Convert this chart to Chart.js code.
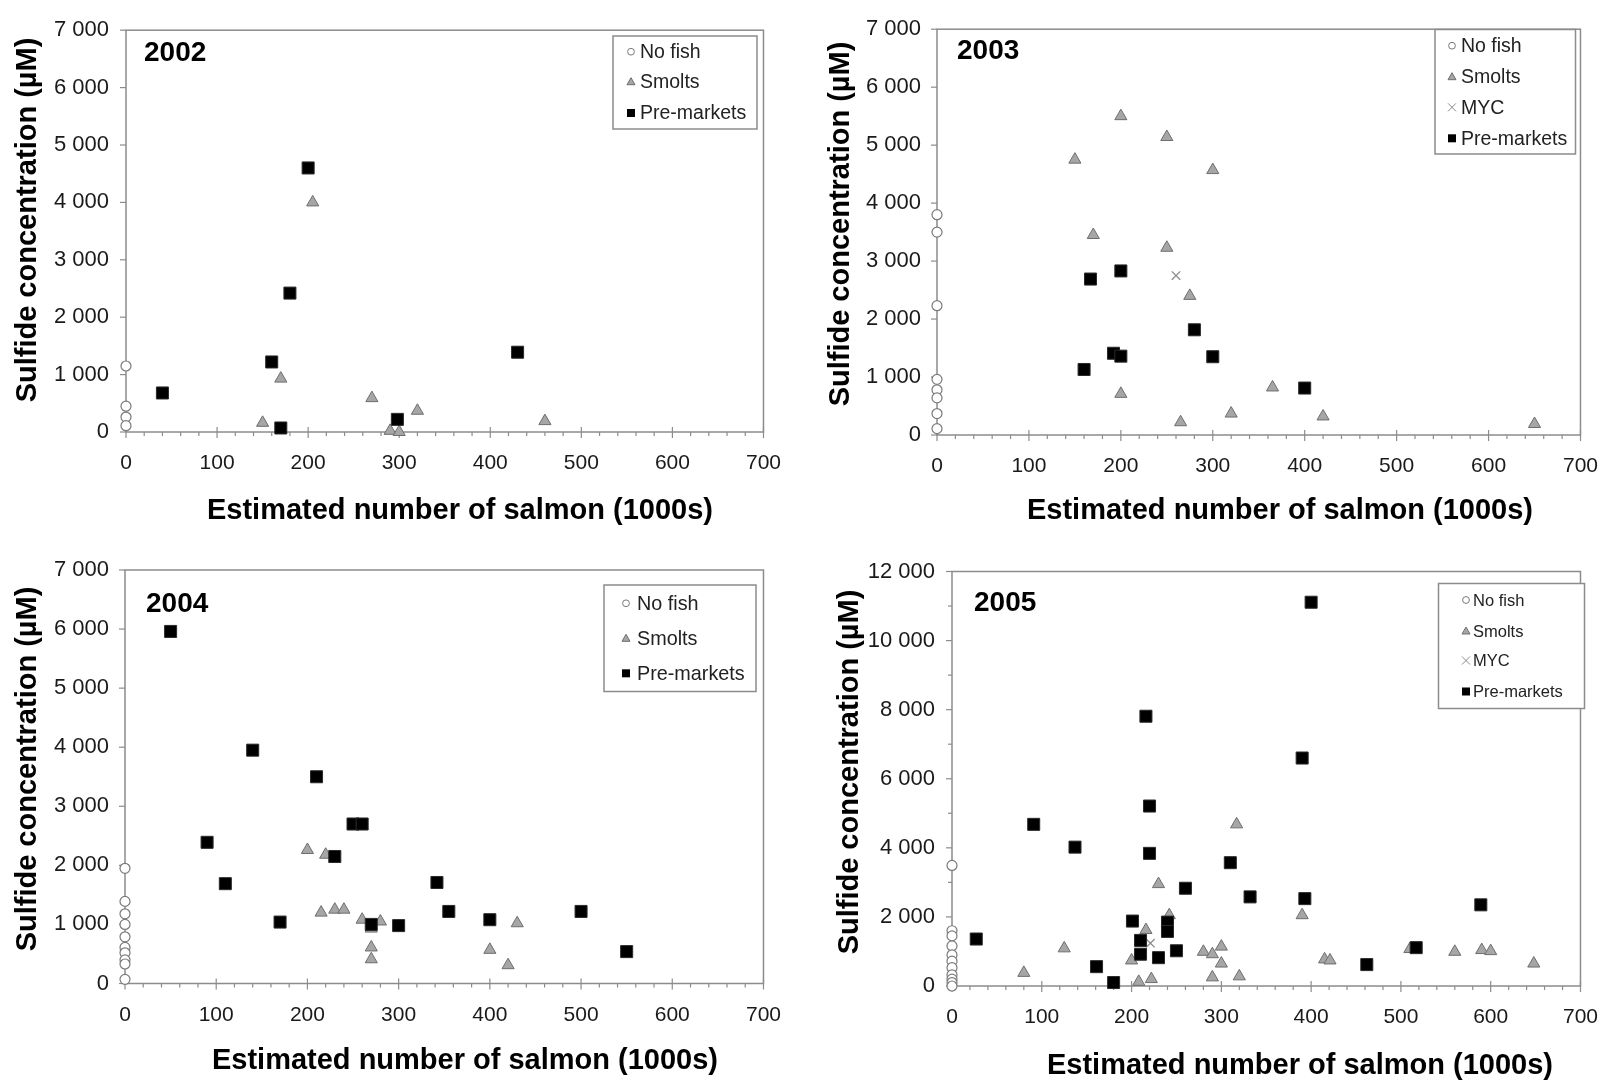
<!DOCTYPE html>
<html>
<head>
<meta charset="utf-8">
<title>Sulfide concentration vs salmon</title>
<script src="https://cdn.jsdelivr.net/npm/chart.js@4.4.1/dist/chart.umd.min.js"></script>
<style>
  html, body { margin: 0; padding: 0; background: #fff; }
  #wrap { position: relative; width: 1617px; height: 1080px; overflow: hidden; }
  #wrap canvas { position: absolute; }
</style>
</head>
<body>
<div id="wrap">
  <canvas id="c2002" width="800" height="540" style="left:0;top:0"></canvas>
  <canvas id="c2003" width="817" height="540" style="left:800px;top:0"></canvas>
  <canvas id="c2004" width="800" height="540" style="left:0;top:540px"></canvas>
  <canvas id="c2005" width="817" height="540" style="left:800px;top:540px"></canvas>
</div>
<script>
// --- data: [salmon (1000s), sulfide (µM)] ---
const noFish2002 = [[0, 1150], [0, 450], [0, 260], [0, 110]];
const smolts2002 = [[150, 160], [170, 930], [205, 4000], [270, 590], [290, 20], [300, 0], [320, 370], [460, 190]];
const preMarkets2002 = [[40, 680], [160, 1220], [170, 70], [180, 2420], [200, 4600], [298, 220], [430, 1390]];

const noFish2003 = [[0, 3800], [0, 3500], [0, 2230], [0, 960], [0, 780], [0, 640], [0, 370], [0, 110]];
const smolts2003 = [[150, 4750], [170, 3450], [200, 5500], [200, 710], [250, 5140], [250, 3230], [265, 220],
  [275, 2400], [300, 4570], [320, 370], [365, 820], [420, 320], [650, 190]];
const myc2003 = [[260, 2750]];
const preMarkets2003 = [[160, 1130], [167, 2690], [192, 1410], [200, 1360], [200, 2830], [280, 1815], [300, 1350], [400, 810]];

const noFish2004 = [[0, 1950], [0, 1390], [0, 1180], [0, 1000], [0, 790], [0, 610], [0, 520], [0, 400], [0, 330], [0, 70]];
const smolts2004 = [[200, 2260], [220, 2180], [215, 1200], [230, 1250], [240, 1250], [260, 1080], [270, 930],
  [270, 610], [270, 410], [280, 1050], [400, 570], [420, 310], [430, 1020]];
const preMarkets2004 = [[50, 5960], [90, 2390], [110, 1690], [140, 3950], [170, 1040], [210, 3500], [230, 2150],
  [250, 2700], [260, 2700], [270, 1000], [300, 980], [342, 1710], [355, 1220], [400, 1080], [500, 1220], [550, 540]];

const noFish2005 = [[0, 3490], [0, 1600], [0, 1450], [0, 1160], [0, 900], [0, 720], [0, 530], [0, 320], [0, 200], [0, 100], [0, 0]];
const smolts2005 = [[80, 380], [125, 1090], [200, 740], [208, 120], [216, 1620], [222, 200], [230, 2950], [242, 2050],
  [280, 990], [290, 920], [290, 250], [300, 1140], [300, 650], [317, 4680], [320, 280], [390, 2050], [415, 770],
  [421, 740], [510, 1070], [560, 990], [590, 1040], [600, 1010], [648, 650]];
const myc2005 = [[221, 1240]];
const preMarkets2005 = [[27, 1360], [91, 4680], [137, 4020], [161, 560], [180, 100], [201, 1880], [210, 1320],
  [210, 920], [216, 7810], [220, 5210], [220, 3840], [230, 820], [240, 1850], [240, 1580], [250, 1020], [260, 2830],
  [310, 3570], [332, 2580], [390, 6600], [393, 2530], [400, 11110], [462, 620], [517, 1110], [589, 2350]];

// tick labels
const xTickValues = [0, 100, 200, 300, 400, 500, 600, 700];
const yTicks7000 = [0, 1000, 2000, 3000, 4000, 5000, 6000, 7000];
const yTicks12000 = [0, 2000, 4000, 6000, 8000, 10000, 12000];

const seriesNames = { noFish: 'No fish', smolts: 'Smolts', myc: 'MYC', preMarkets: 'Pre-markets' };

// --- styles ---
const FONT = "'Liberation Sans', Arial, Helvetica, sans-serif";
const AXIS_COLOR = '#8c8c8c';
const TEXT_COLOR = '#1a1a1a';
const markStyle = {
  noFish:     { pointStyle: 'circle',   radius: 5,   bg: '#ffffff', border: '#7a7a7a', width: 1.2 },
  smolts:     { pointStyle: 'triangle', radius: 7,   bg: '#a6a6a6', border: '#6e6e6e', width: 1 },
  myc:        { pointStyle: 'crossRot', radius: 6,   bg: '#8a8a8a', border: '#8a8a8a', width: 1.3 },
  preMarkets: { pointStyle: 'rect',     radius: 8.5, bg: '#000000', border: '#2a2a2a', width: 1 }
};

function fmt(v) {
  return String(v).replace(/\B(?=(\d{3})+(?!\d))/g, ' ');
}

// small legend symbols
function legendMark(ctx, key, x, y) {
  const s = markStyle[key];
  ctx.save();
  ctx.lineWidth = 1;
  ctx.strokeStyle = s.border;
  ctx.fillStyle = s.bg;
  ctx.beginPath();
  if (key === 'noFish') {
    ctx.arc(x, y, 3.4, 0, Math.PI * 2);
    ctx.fill(); ctx.stroke();
  } else if (key === 'smolts') {
    ctx.moveTo(x, y - 4); ctx.lineTo(x + 4, y + 3); ctx.lineTo(x - 4, y + 3); ctx.closePath();
    ctx.fill(); ctx.stroke();
  } else if (key === 'myc') {
    ctx.moveTo(x - 4, y - 4); ctx.lineTo(x + 4, y + 4);
    ctx.moveTo(x + 4, y - 4); ctx.lineTo(x - 4, y + 4);
    ctx.stroke();
  } else {
    ctx.fillStyle = '#000';
    ctx.fillRect(x - 4, y - 4, 8, 8);
  }
  ctx.restore();
}

const panelDecor = {
  id: 'panelDecor',
  beforeDatasetsDraw(chart, args, o) {
    const { ctx, chartArea: a, scales: { x, y } } = chart;
    ctx.save();
    ctx.strokeStyle = AXIS_COLOR;
    ctx.lineWidth = 1.5;
    ctx.strokeRect(a.left, a.top, a.right - a.left, a.bottom - a.top);
    ctx.lineWidth = 1.2;
    // x ticks: major cross the axis, minor below
    for (let v = x.min; v <= x.max; v += o.xMinor) {
      const px = x.getPixelForValue(v);
      const major = v % o.xMajor === 0;
      ctx.beginPath();
      ctx.moveTo(px, a.bottom - (major ? 5 : 0));
      ctx.lineTo(px, a.bottom + (major ? 6 : 4));
      ctx.stroke();
    }
    // y ticks on the left
    for (let v = y.min; v <= y.max; v += o.yMinor) {
      const py = y.getPixelForValue(v);
      const major = v % o.yMajor === 0;
      ctx.beginPath();
      ctx.moveTo(a.left - (major ? 6 : 4), py);
      ctx.lineTo(a.left, py);
      ctx.stroke();
    }
    ctx.restore();
  },
  afterDatasetsDraw(chart, args, o) {
    const { ctx } = chart;
    ctx.save();
    ctx.fillStyle = '#000';
    // year label
    ctx.font = 'bold 28px ' + FONT;
    ctx.textAlign = 'left';
    ctx.textBaseline = 'alphabetic';
    ctx.fillText(o.year, o.yearPos[0], o.yearPos[1] + 10);
    // x title
    ctx.font = 'bold 29px ' + FONT;
    ctx.textAlign = 'center';
    ctx.fillText('Estimated number of salmon (1000s)', o.xTitle[0], o.xTitle[1] + 10.4);
    // y title
    ctx.save();
    ctx.translate(o.yTitle[0], o.yTitle[1]);
    ctx.rotate(-Math.PI / 2);
    ctx.textBaseline = 'middle';
    ctx.fillText('Sulfide concentration (\u00b5M)', 0, 0);
    ctx.restore();
    // legend
    const L = o.legend;
    ctx.fillStyle = '#fff';
    ctx.fillRect(L.box[0], L.box[1], L.box[2], L.box[3]);
    ctx.strokeStyle = '#8c8c8c';
    ctx.lineWidth = 1.5;
    ctx.strokeRect(L.box[0], L.box[1], L.box[2], L.box[3]);
    ctx.font = L.font + 'px ' + FONT;
    ctx.textAlign = 'left';
    ctx.textBaseline = 'middle';
    L.keys.forEach((k, i) => {
      legendMark(ctx, k, L.markX, L.rows[i]);
      ctx.fillStyle = '#222';
      ctx.fillText(seriesNames[k], L.textX, L.rows[i] + 1);
    });
    ctx.restore();
  }
};

function toPts(pairs) {
  return pairs.map(p => ({ x: p[0], y: p[1] }));
}

function makeSet(key, pairs, order) {
  const s = markStyle[key];
  return {
    label: seriesNames[key],
    data: toPts(pairs),
    pointStyle: s.pointStyle,
    pointRadius: s.radius,
    pointBackgroundColor: s.bg,
    pointBorderColor: s.border,
    pointBorderWidth: s.width,
    showLine: false,
    clip: false,
    order: order
  };
}

function makePanel(id, sets, yTicks, yMinor, layout) {
  const cv = document.getElementById(id);
  const W = cv.width, H = cv.height, A = layout.area;
  const yMax = yTicks[yTicks.length - 1];
  return new Chart(cv, {
    type: 'scatter',
    data: { datasets: sets },
    options: {
      responsive: false,
      animation: false,
      events: [],
      devicePixelRatio: 1,
      layout: { padding: { top: A.top, right: W - A.right, left: 0, bottom: 0 } },
      plugins: {
        legend: { display: false },
        tooltip: { enabled: false },
        panelDecor: {
          year: layout.year, yearPos: layout.yearPos,
          xTitle: layout.xTitle, yTitle: layout.yTitle, legend: layout.legend,
          xMajor: 100, xMinor: 20, yMajor: yTicks[1], yMinor: yMinor
        }
      },
      scales: {
        x: {
          type: 'linear', min: 0, max: 700,
          afterBuildTicks: s => { s.ticks = xTickValues.map(v => ({ value: v })); },
          afterFit: s => { s.height = H - A.bottom; },
          ticks: { color: TEXT_COLOR, font: { family: FONT, size: 21 }, padding: 19, maxRotation: 0, autoSkip: false,
            callback: v => fmt(v) },
          grid: { display: false, drawTicks: false },
          border: { display: false }
        },
        y: {
          type: 'linear', min: 0, max: yMax,
          afterBuildTicks: s => { s.ticks = yTicks.map(v => ({ value: v })); },
          afterFit: s => { s.width = A.left; },
          ticks: { color: TEXT_COLOR, font: { family: FONT, size: 22 }, padding: layout.yPad, autoSkip: false,
            callback: v => fmt(v) },
          grid: { display: false, drawTicks: false },
          border: { display: false }
        }
      }
    },
    plugins: [panelDecor]
  });
}

makePanel('c2002', [
  makeSet('preMarkets', preMarkets2002, 0),
  makeSet('smolts', smolts2002, 1),
  makeSet('noFish', noFish2002, 2)
], yTicks7000, 1000, {
  area: { left: 126, top: 19, right: 774, bottom: 432 }, yPad: 17,
  year: '2002', yearPos: [144, 51], xTitle: [460, 509], yTitle: [28, 220],
  legend: { box: [613, 36, 144, 93], rows: [51.7, 81.7, 113], markX: 631, textX: 640, font: 19.5,
    keys: ['noFish', 'smolts', 'preMarkets'] }
});

makePanel('c2003', [
  makeSet('preMarkets', preMarkets2003, 0),
  makeSet('myc', myc2003, 1),
  makeSet('smolts', smolts2003, 2),
  makeSet('noFish', noFish2003, 3)
], yTicks7000, 1000, {
  area: { left: 137, top: 16, right: 785, bottom: 435 }, yPad: 16,
  year: '2003', yearPos: [157, 49], xTitle: [480, 509], yTitle: [41, 224],
  legend: { box: [635, 29.5, 140.5, 124.5], rows: [45.7, 76.7, 107.3, 138.3], markX: 652, textX: 661, font: 19.5,
    keys: ['noFish', 'smolts', 'myc', 'preMarkets'] }
});

makePanel('c2004', [
  makeSet('preMarkets', preMarkets2004, 0),
  makeSet('smolts', smolts2004, 1),
  makeSet('noFish', noFish2004, 2)
], yTicks7000, 1000, {
  area: { left: 125, top: 30, right: 774, bottom: 443.5 }, yPad: 16,
  year: '2004', yearPos: [146, 62], xTitle: [465, 519], yTitle: [28, 229],
  legend: { box: [604, 45, 152, 106.5], rows: [63.3, 98.3, 133.3], markX: 626, textX: 637, font: 19.8,
    keys: ['noFish', 'smolts', 'preMarkets'] }
});

makePanel('c2005', [
  makeSet('preMarkets', preMarkets2005, 0),
  makeSet('myc', myc2005, 1),
  makeSet('smolts', smolts2005, 2),
  makeSet('noFish', noFish2005, 3)
], yTicks12000, 1000, {
  area: { left: 152, top: 31.5, right: 793, bottom: 446 }, yPad: 17,
  year: '2005', yearPos: [174, 61], xTitle: [500, 524], yTitle: [50, 232],
  legend: { box: [638.5, 43.5, 146, 125], rows: [60, 91, 120.5, 151.5], markX: 666, textX: 673, font: 16.5,
    keys: ['noFish', 'smolts', 'myc', 'preMarkets'] }
});
</script>
</body>
</html>
